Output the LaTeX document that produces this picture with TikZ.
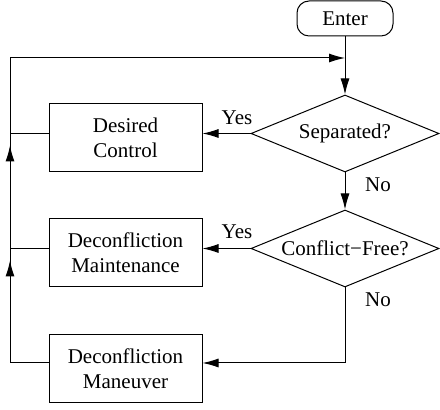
\documentclass[tikz,border=0pt]{standalone}
\usepackage{fontspec}
\newfontfamily\timesfont{Liberation Serif}
\usetikzlibrary{arrows.meta,shapes,calc}
\begin{document}
\begin{tikzpicture}[x=0.5pt,y=-0.5pt,>={Latex[length=8pt,width=4.5pt]},line width=0.5pt,
  every node/.style={font=\timesfont\fontsize{10.5pt}{12.5pt}\selectfont},
  box/.style={draw,minimum width=76.5pt,minimum height=34pt,inner sep=0pt,align=center},
  test/.style={draw,shape=diamond,minimum width=94pt,minimum height=38.5pt,inner sep=0pt,shape aspect=2.45},
  lbl/.style={inner sep=0pt}]
\useasboundingbox (0,0) rectangle (440,410);
\node[draw,rounded corners=6pt,minimum width=48pt,minimum height=17.5pt,inner sep=0pt] (enter) at (345,18.5) {Enter};
\node[test] (sep) at (345,133.5) {Separated?};
\node[test] (free) at (345,248.5) {Conflict−Free?};
\node[box] (desired) at (125.5,138) {Desired\\Control};
\node[box] (maint) at (125.5,253) {Deconfliction\\Maintenance};
\node[box] (maneuver) at (125.5,368.5) {Deconfliction\\Maneuver};
\coordinate (top) at (10,58);
\coordinate (j1) at (10,133.5);
\coordinate (j2) at (10,248.5);
\coordinate (j3) at (10,363);
\coordinate (turn) at (345,363);
\draw [->] (enter) to (sep);
\draw [->] (sep) to (free);
\draw [->] (sep.west) to (sep.west -| desired.east);
\draw [->] (free.west) to (free.west -| desired.east);
\draw [->] (free.south) -- (turn) -- (turn -| maneuver.east);
\draw (maneuver.west |- j3) -- (j3) -- (j1);
\draw (maint.west |- j2) -- (j2);
\draw [->] (j3) -- ($(j2)+(0,12)$);
\draw [->] (j2) -- ($(j1)+(0,12)$);
\draw [->] (desired.west |- j1) -- (j1) -- (top) -- (top -| sep.north);
\node[lbl] (yes1) at (237,118) {Yes};
\node[lbl] (no1) at (378,185) {No};
\node[lbl] (yes2) at (237,232) {Yes};
\node[lbl] (no2) at (378,300) {No};
\end{tikzpicture}
\end{document}
